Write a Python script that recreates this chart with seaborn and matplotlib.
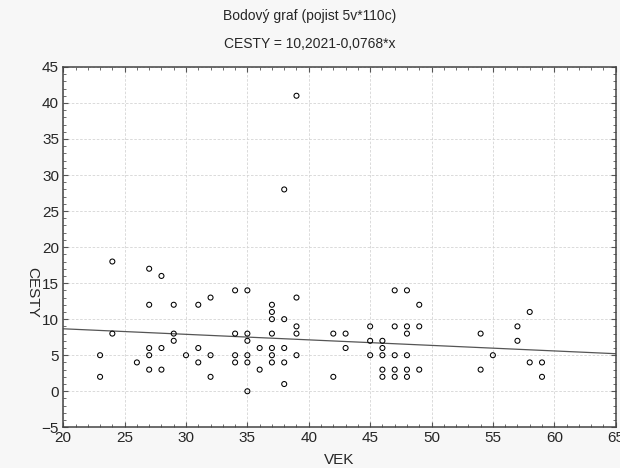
import matplotlib.pyplot as plt
import pandas as pd
import seaborn as sns
import numpy as np
from matplotlib.ticker import MultipleLocator

# values
vek = [23, 23, 24, 24, 26, 27, 27, 27, 27, 27, 28, 28, 28, 29, 29, 29,
       30, 31, 31, 31, 32, 32, 32, 34, 34, 34, 34, 35, 35, 35,
       35, 35, 35, 36, 36, 37, 37, 37, 37, 37, 37, 37, 38, 38, 38,
       38, 38, 39, 39, 39, 39, 39, 42, 42, 43, 43, 45, 45, 45, 46, 46,
       46, 46, 46, 47, 47, 47, 47, 47, 48, 48, 48, 48, 48, 48, 49, 49,
       49, 54, 54, 55, 57, 57, 58, 58, 59, 59]
cesty = [5, 2, 18, 8, 4, 17, 12, 6, 5, 3, 16, 6, 3, 12, 8, 7,
         5, 12, 6, 4, 13, 5, 2, 14, 8, 5, 4, 14, 8, 7,
         5, 4, 0, 6, 3, 12, 11, 10, 8, 6, 5, 4, 10, 6, 4,
         1, 28, 41, 13, 9, 8, 5, 8, 2, 8, 6, 9, 7, 5, 7, 6,
         5, 3, 2, 14, 9, 5, 3, 2, 14, 9, 8, 5, 3, 2, 12, 9,
         3, 8, 3, 5, 9, 7, 11, 4, 4, 2]
intercept = 10.2021
slope = -0.0768

df = pd.DataFrame({"VEK": vek, "CESTY": cesty})

sns.set_style("white")
plt.rcParams['font.family'] = ['Liberation Sans', 'DejaVu Sans']

fig = plt.figure(figsize=(6.2, 4.68), dpi=100, facecolor="#f7f7f7")
ax = fig.add_axes([0.102, 0.087, 0.891, 0.770])
ax.set_facecolor("white")

sns.scatterplot(data=df, x="VEK", y="CESTY", ax=ax, marker="o", s=13,
                facecolor="none", edgecolor="black", linewidth=0.75, zorder=3)

xs = np.array([20, 65])
sns.lineplot(x=xs, y=intercept + slope * xs, ax=ax, color="#555555",
             linewidth=0.9, zorder=2)

ax.set_xlim(20, 65)
ax.set_ylim(-5, 45)
ax.xaxis.set_major_locator(MultipleLocator(5))
ax.yaxis.set_major_locator(MultipleLocator(5))
ax.xaxis.set_minor_locator(MultipleLocator(1))
ax.yaxis.set_minor_locator(MultipleLocator(1))
ax.tick_params(which='both', direction='in', top=True, right=True,
               bottom=True, left=True, color="#555555")
ax.tick_params(which='major', length=3.5, width=0.8, labelsize=11, pad=3)
ax.tick_params(which='minor', length=2.5, width=0.6)
ax.grid(True, which='major', linestyle=(0, (3, 2)), color="#d4d4d4", linewidth=0.6)
for side in ['top', 'bottom', 'left', 'right']:
    ax.spines[side].set_color("#444444")
    ax.spines[side].set_linewidth(1.1)

ax.set_xlabel("VEK", fontsize=11, va="center")
ax.set_ylabel("CESTY", fontsize=11, rotation=270, va="center", ha="center")
ax.xaxis.set_label_coords(0.5, -0.092)
ax.yaxis.set_label_coords(-0.056, 0.375)
fig.text(0.5, 0.966, "Bodový graf (pojist 5v*110c)", ha="center", va="center", fontsize=10)
fig.text(0.5, 0.906, "CESTY = 10,2021-0,0768*x", ha="center", va="center", fontsize=10)

fig.savefig("out.png", dpi=100, facecolor=fig.get_facecolor())
